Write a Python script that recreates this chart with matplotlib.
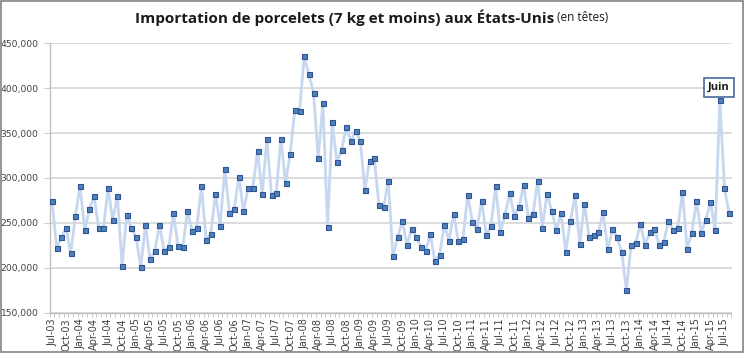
import matplotlib
matplotlib.use("Agg")
import matplotlib.pyplot as plt
from matplotlib.patches import Rectangle
from matplotlib.ticker import FuncFormatter, FixedLocator
import numpy as np

# Monthly imports of piglets (thousand heads), Jul-2003 .. Aug-2015
values = [
    274.6, 221.8, 233.7, 244.5, 215.8, 257.9,                      # 2003 Jul-Dec
    291.4, 241.9, 265.0, 279.9, 243.7, 244.0,
    288.4, 252.7, 280.2, 202.0, 259.0, 243.7,                      # 2004
    233.7, 200.9, 247.1, 209.1, 218.1, 247.8,
    218.4, 222.9, 260.5, 223.6, 222.5, 263.1,                      # 2005
    240.8, 244.5, 291.4, 230.3, 237.8, 282.1,
    246.7, 310.0, 260.5, 265.3, 301.1, 263.1,                      # 2006
    288.8, 289.2, 329.7, 282.1, 343.2, 281.3,
    283.2, 343.9, 294.4, 327.1, 375.5, 374.4,                      # 2007
    435.5, 415.4, 394.5, 321.9, 383.7, 245.6,
    361.8, 318.2, 330.9, 356.2, 340.9, 352.5,                      # 2008
    341.3, 286.9, 319.3, 321.9, 269.8, 267.2,
    297.0, 212.5, 234.1, 252.3, 225.1, 243.4,                      # 2009
    234.4, 223.3, 218.1, 237.4, 206.9, 214.3,
    247.8, 230.0, 260.1, 229.6, 231.8, 281.0,                      # 2010
    251.2, 243.0, 274.6, 235.9, 246.7, 291.0,
    239.7, 259.0, 282.8, 257.9, 267.6, 292.1,                      # 2011
    255.7, 260.1, 297.0, 244.5, 282.5, 263.1,
    241.9, 261.2, 217.7, 251.9, 280.6, 225.9,                      # 2012
    270.9, 234.4, 235.9, 239.7, 262.0, 220.3,
    242.6, 234.4, 216.9, 174.9, 225.1, 227.7,                      # 2013
    248.6, 225.5, 239.3, 243.4, 225.5, 228.9,
    251.9, 241.5, 244.1, 284.3, 220.7, 238.9,                      # 2014
    274.3, 238.9, 253.4, 273.2, 241.5, 387.1,
    288.4, 260.5,                                                  # 2015 Jul-Aug
]
values = [v * 1000 for v in values]

month_names = ["Jan", "Feb", "Mar", "Apr", "May", "Jun",
               "Jul", "Aug", "Sep", "Oct", "Nov", "Dec"]
labels = []
for i in range(len(values)):
    m = (6 + i) % 12
    y = 3 + (6 + i) // 12
    labels.append(f"{month_names[m]}-{y:02d}")

title_main = "Importation de porcelets (7 kg et moins) aux États-Unis"
title_sub = "(en têtes)"
note_text = "Juin"
note_index = 143

W, H = 744, 354
fig = plt.figure(figsize=(W / 100, H / 100), dpi=100)
fig.patch.set_facecolor("white")

ax_left, ax_right = 49.7, 731.5
ax_top, ax_bottom = 43.3, 312.5
ax = fig.add_axes([ax_left / W, 1 - ax_bottom / H,
                   (ax_right - ax_left) / W, (ax_bottom - ax_top) / H])

x = np.arange(len(values))
ax.plot(x, values, color="#c6d7ef", lw=2.0, zorder=3,
        marker="s", markersize=3.6, markerfacecolor="#4f81bd",
        markeredgecolor="#2c5392", markeredgewidth=0.8)

ax.set_xlim(-0.5, len(values) - 0.5)
ax.set_ylim(150000, 450000)
ax.set_yticks(np.arange(150000, 450001, 50000))
ax.yaxis.set_major_formatter(FuncFormatter(lambda v, p: f"{int(v):,}"))
ax.grid(axis="y", color="#d9d9d9", lw=1.3, zorder=0)
ax.set_axisbelow(True)

major = list(range(0, len(values), 3))
ax.xaxis.set_major_locator(FixedLocator(major))
ax.set_xticklabels([labels[i] for i in major], rotation=90)
ax.xaxis.set_minor_locator(FixedLocator(np.arange(-0.5, len(values), 1)))
ax.tick_params(axis="x", which="major", length=0, pad=4, labelsize=7,
               labelcolor="#404040")
ax.tick_params(axis="x", which="minor", length=3, width=0.6, color="#bfbfbf")
ax.tick_params(axis="y", length=4, width=0.6, color="#bfbfbf", pad=4,
               labelsize=6.6, labelcolor="#404040")

for s in ["top", "right"]:
    ax.spines[s].set_visible(False)
for s in ["left", "bottom"]:
    ax.spines[s].set_color("#bfbfbf")
    ax.spines[s].set_linewidth(1.0)

ax.annotate(note_text, xy=(note_index, values[note_index]),
            xytext=(-0.5, 5), textcoords="offset points",
            ha="center", va="bottom", fontsize=8, fontweight="bold",
            family="Open Sans", color="#1a1a1a",
            bbox=dict(boxstyle="square,pad=0.35", fc="white",
                      ec="#4a6a9a", lw=1.2), zorder=5)

ty = 1 - 18 / H
t1 = fig.text(0.5, ty, title_main, ha="left", va="center",
              fontsize=11, fontweight="bold", family="Open Sans",
              color="#1a1a1a")
t2 = fig.text(0.5, ty, " " + title_sub, ha="left", va="center",
              fontsize=8.5, family="Open Sans", color="#1a1a1a")
fig.canvas.draw()
w1 = t1.get_window_extent().width
w2 = t2.get_window_extent().width
start = (W - (w1 + w2)) / 2
t1.set_position((start / W, ty))
t2.set_position(((start + w1) / W, ty + 0.5 / H))

fig.patches.append(Rectangle((0.5 / W, 2 / H), (W - 2) / W, (H - 3) / H,
                             transform=fig.transFigure, fill=False,
                             ec="#8c8c8c", lw=1.3))

fig.savefig("out.png", dpi=100)
